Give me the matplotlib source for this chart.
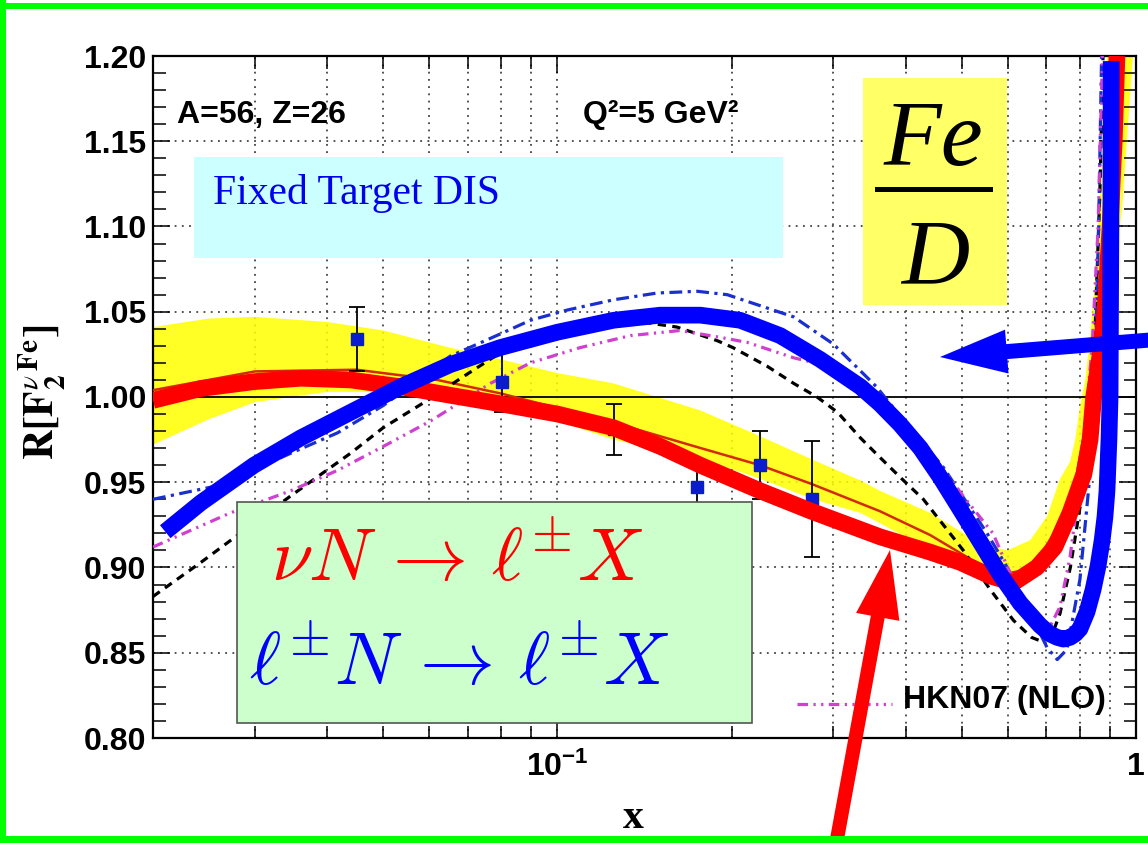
import matplotlib
matplotlib.use("Agg")
import matplotlib.pyplot as plt
from matplotlib.patches import Rectangle, Polygon
from matplotlib.lines import Line2D
from matplotlib.ticker import NullFormatter
import numpy as np

plt.rcParams['font.family'] = ['Liberation Sans', 'DejaVu Sans']
plt.rcParams['mathtext.fontset'] = 'custom'
plt.rcParams['mathtext.rm'] = 'Liberation Sans'
plt.rcParams['mathtext.bf'] = 'Liberation Sans:bold'
plt.rcParams['mathtext.it'] = 'Liberation Sans:italic'

# ---------------- data ----------------
# measured ratio points
data_x = [0.0451, 0.0803, 0.1251, 0.1743, 0.2242, 0.2754]
data_y = [1.034, 1.009, 0.981, 0.947, 0.960, 0.940]
data_err = [0.019, 0.018, 0.015, 0.016, 0.020, 0.034]

# central fit (thin red) and its uncertainty band
fit_x = [0.020, 0.030, 0.045, 0.062, 0.080, 0.125, 0.177, 0.224, 0.275, 0.361,
         0.441, 0.517, 0.560, 0.590, 0.630, 0.680, 0.740, 0.785, 0.820, 0.850,
         0.880, 0.910, 0.930]
fit_y = [1.004, 1.015, 1.016, 1.010, 1.002, 0.985, 0.970, 0.960, 0.949, 0.933,
         0.919, 0.905, 0.899, 0.896, 0.898, 0.906, 0.926, 0.950, 0.985, 1.030,
         1.090, 1.160, 1.200]

band_hi_x = [0.020, 0.025, 0.030, 0.040, 0.050, 0.065, 0.080, 0.100, 0.125, 0.177,
             0.224, 0.277, 0.334, 0.361, 0.441, 0.538, 0.599, 0.656, 0.702, 0.739,
             0.769, 0.785, 0.800, 0.817, 0.833, 0.850, 0.867, 0.891]
band_hi_y = [1.041, 1.046, 1.047, 1.044, 1.039, 1.029, 1.022, 1.014, 1.008, 0.992,
             0.977, 0.963, 0.951, 0.945, 0.932, 0.914, 0.910, 0.916, 0.930, 0.952,
             0.962, 0.975, 0.994, 1.010, 1.035, 1.070, 1.120, 1.200]
band_lo_x = [0.020, 0.025, 0.030, 0.040, 0.050, 0.065, 0.080, 0.100, 0.125, 0.177,
             0.224, 0.277, 0.334, 0.361, 0.441, 0.538, 0.599, 0.656, 0.702, 0.750,
             0.800, 0.850, 0.900, 0.946, 0.988]
band_lo_y = [0.972, 0.987, 0.997, 1.003, 1.003, 1.000, 0.995, 0.986, 0.975, 0.964,
             0.952, 0.940, 0.932, 0.926, 0.910, 0.899, 0.893, 0.897, 0.905, 0.925,
             0.955, 1.000, 1.050, 1.110, 1.200]

# black dashed model
bk_x = [0.020, 0.0242, 0.0346, 0.0439, 0.050, 0.0596, 0.0688, 0.0797, 0.0935, 0.110,
        0.140, 0.161, 0.189, 0.201, 0.2305, 0.256, 0.281, 0.305, 0.334, 0.355,
        0.391, 0.429, 0.503, 0.560, 0.614, 0.660, 0.683, 0.715, 0.739, 0.770,
        0.800, 0.833, 0.850, 0.866, 0.877]
bk_y = [0.883, 0.903, 0.942, 0.967, 0.982, 0.998, 1.012, 1.026, 1.0375, 1.043,
        1.044, 1.041, 1.033, 1.029, 1.018, 1.008, 1.000, 0.991, 0.976, 0.967,
        0.953, 0.940, 0.910, 0.887, 0.869, 0.859, 0.857, 0.860, 0.873, 0.900,
        0.935, 0.975, 1.040, 1.120, 1.200]

# blue dash-dot model
bd_x = [0.020, 0.0259, 0.0346, 0.0417, 0.050, 0.0653, 0.0797, 0.0898, 0.104, 0.125,
        0.1488, 0.1745, 0.1966, 0.236, 0.256, 0.300, 0.356, 0.380, 0.464, 0.553,
        0.599, 0.648, 0.702, 0.731, 0.760, 0.800, 0.833, 0.850, 0.862, 0.872]
bd_y = [0.940, 0.948, 0.967, 0.979, 0.995, 1.024, 1.037, 1.045, 1.051, 1.057,
        1.061, 1.062, 1.060, 1.051, 1.047, 1.031, 1.006, 0.994, 0.959, 0.920,
        0.900, 0.877, 0.853, 0.846, 0.852, 0.893, 0.955, 1.020, 1.100, 1.200]

# HKN07 (NLO), magenta dash-dot-dot
mg_x = [0.020, 0.0272, 0.0346, 0.0417, 0.050, 0.0604, 0.0766, 0.0898, 0.1096, 0.1337,
        0.163, 0.191, 0.213, 0.256, 0.312, 0.357, 0.424, 0.497, 0.566, 0.631,
        0.702, 0.739, 0.769, 0.800, 0.840, 0.860, 0.875]
mg_y = [0.912, 0.932, 0.945, 0.957, 0.971, 0.986, 1.008, 1.020, 1.029, 1.036,
        1.039, 1.035, 1.032, 1.023, 1.016, 1.002, 0.975, 0.944, 0.920, 0.883,
        0.862, 0.877, 0.906, 0.950, 1.030, 1.100, 1.200]

# hand-drawn summary curves
red_x = [0.0200, 0.0242, 0.0299, 0.0360, 0.0439, 0.0536, 0.0653, 0.0797, 0.1000,
         0.1250, 0.1506, 0.1766, 0.2240, 0.2747, 0.3610, 0.4410, 0.4970, 0.5600,
         0.6140, 0.6740, 0.7240, 0.7690, 0.8130, 0.8330, 0.8450, 0.8670, 0.8840,
         0.9020, 0.9170, 0.9270]
red_y = [0.998, 1.005, 1.009, 1.011, 1.010, 1.006, 1.001, 0.996, 0.990,
         0.982, 0.971, 0.960, 0.945, 0.933, 0.918, 0.909, 0.903, 0.895,
         0.891, 0.900, 0.912, 0.932, 0.955, 0.975, 1.000, 1.025, 1.050,
         1.100, 1.150, 1.200]
blue_x = [0.0210, 0.0242, 0.0299, 0.0360, 0.0439, 0.0536, 0.0653, 0.0797, 0.1000,
          0.1250, 0.1506, 0.1766, 0.2070, 0.2427, 0.2846, 0.3340, 0.3610, 0.3910,
          0.4240, 0.4587, 0.4970, 0.5380, 0.5820, 0.6310, 0.6826, 0.7100, 0.7310,
          0.7490, 0.7690, 0.7850, 0.8000, 0.8230, 0.8430, 0.8600, 0.8740, 0.8840,
          0.8910, 0.8980, 0.9020, 0.9050, 0.9060]
blue_y = [0.921, 0.938, 0.960, 0.976, 0.991, 1.006, 1.019, 1.029, 1.038,
          1.045, 1.048, 1.048, 1.045, 1.036, 1.022, 1.006, 0.996, 0.984,
          0.970, 0.953, 0.934, 0.915, 0.896, 0.879, 0.866, 0.861, 0.859,
          0.858, 0.859, 0.861, 0.864, 0.874, 0.887, 0.901, 0.916, 0.930,
          0.945, 0.975, 1.000, 1.100, 1.197]

y_ticks = [0.80, 0.85, 0.90, 0.95, 1.00, 1.05, 1.10, 1.15, 1.20]
x_minor = [0.02, 0.03, 0.04, 0.05, 0.06, 0.07, 0.08, 0.09,
           0.2, 0.3, 0.4, 0.5, 0.6, 0.7, 0.8, 0.9]

# ---------------- figure ----------------
W, H = 1148, 843
fig = plt.figure(figsize=(W / 100, H / 100), dpi=100)


def fx(px):
    return px / W


def fy(py):
    return 1 - py / H


ax = fig.add_axes([fx(153), fy(738), (1136 - 153) / W, (738 - 56) / H])
ax.set_xscale('log')
ax.set_xlim(0.02, 1.0)
ax.set_ylim(0.80, 1.20)

# grid
for yv in [0.85, 0.90, 0.95, 1.05, 1.10, 1.15]:
    ax.axhline(yv, color='#444444', lw=1.3, ls=(0, (1, 3)), zorder=1)
for xv in x_minor[1:] + [0.1]:
    ax.axvline(xv, color='#444444', lw=1.3, ls=(0, (1, 3)), zorder=1)
ax.axhline(1.0, color='black', lw=1.3, zorder=2)

# band + central fit
poly_x = list(band_hi_x) + list(band_lo_x[::-1])
poly_y = list(band_hi_y) + list(band_lo_y[::-1])
ax.fill(poly_x, poly_y, color='#ffff00', alpha=0.85, lw=0, zorder=1.5)
ax.plot(fit_x, fit_y, color='#d42a00', lw=1.8, zorder=3)

# model curves
ax.plot(bk_x, bk_y, color='black', lw=2.3, ls=(0, (2.6, 2.0)), zorder=3)
ax.plot(bd_x, bd_y, color='#1a2fd0', lw=2.3, ls=(0, (4.0, 1.7, 1.0, 1.7)), zorder=3)
ax.plot(mg_x, mg_y, color='#d040d0', lw=2.3,
        ls=(0, (3.3, 1.7, 0.7, 1.7, 0.7, 1.7)), zorder=3)

# data
ax.errorbar(data_x, data_y, yerr=data_err, fmt='s', color='#0a1ccc', ms=8,
            mec='#0a1ccc', ecolor='black', elinewidth=1.3, capsize=6,
            capthick=1.3, zorder=4)

# thick summary curves
ax.plot(red_x, red_y, color='#ff0000', lw=12, solid_capstyle='butt',
        solid_joinstyle='round', zorder=7)
ax.plot(blue_x, blue_y, color='#0000ff', lw=12, solid_capstyle='butt',
        solid_joinstyle='round', zorder=8)

# axes styling
ax.set_xticks([0.1, 1.0])
ax.set_xticklabels([r'$\mathbf{10^{-1}}$', '1'])
ax.set_xticks(x_minor, minor=True)
ax.xaxis.set_minor_formatter(NullFormatter())
ax.set_yticks(y_ticks)
ax.set_yticklabels(['%.2f' % v for v in y_ticks])
ax.set_yticks(np.round(np.arange(0.80, 1.2001, 0.01), 2), minor=True)
ax.tick_params(which='both', direction='in', top=True, right=True, width=1.1)
ax.tick_params(which='major', length=12)
ax.tick_params(which='minor', length=9)
ax.tick_params(axis='y', which='major', labelsize=23, pad=5)
ax.tick_params(axis='x', which='major', labelsize=23, pad=10)
for lab in ax.get_xticklabels() + ax.get_yticklabels():
    lab.set_fontweight('bold')
for sp in ax.spines.values():
    sp.set_linewidth(1.6)

ft = fig.transFigure

# boxes
ax.add_patch(Rectangle((fx(194), fy(258)), (783 - 194) / W, (258 - 157) / H,
                       transform=ft, facecolor='#ccffff', edgecolor='none',
                       clip_on=False, zorder=5))
ax.add_patch(Rectangle((fx(863), fy(305)), (1007 - 863) / W, (305 - 78) / H,
                       transform=ft, facecolor='#ffff66', edgecolor='none',
                       clip_on=False, zorder=5))
ax.add_patch(Rectangle((fx(237), fy(723)), (752 - 237) / W, (723 - 502) / H,
                       transform=ft, facecolor='#ccffcc', edgecolor='#555555',
                       lw=1.2, clip_on=False, zorder=5))
ax.add_patch(Rectangle((fx(875), fy(192)), (993 - 875) / W, 4.5 / H,
                       transform=ft, facecolor='black', edgecolor='none',
                       clip_on=False, zorder=6))

ax.text(fx(213), fy(204), 'Fixed Target DIS', transform=ft, color='#0000ee',
        family='Liberation Serif', fontsize=30, va='baseline', ha='left', zorder=6)
ax.text(fx(933), fy(165), 'Fe', transform=ft, family='Liberation Serif',
        style='italic', fontsize=68, va='baseline', ha='center', zorder=6)
ax.text(fx(935), fy(283), 'D', transform=ft, family='Liberation Serif',
        style='italic', fontsize=68, va='baseline', ha='center', zorder=6)
ax.text(fx(457), fy(581), r'$\nu N \,\rightarrow\, \ell^{\pm} X$', transform=ft,
        color='#ff0000', fontsize=54, math_fontfamily='cm', va='baseline',
        ha='center', zorder=6)
ax.text(fx(459), fy(685), r'$\ell^{\pm} N \,\rightarrow\, \ell^{\pm} X$', transform=ft,
        color='#0000ff', fontsize=54, math_fontfamily='cm', va='baseline',
        ha='center', zorder=6)

ax.text(fx(177), fy(123), 'A=56, Z=26', transform=ft, fontsize=23,
        fontweight='bold', va='baseline', ha='left', zorder=6)
ax.text(fx(583), fy(123), 'Q\u00b2=5 GeV\u00b2', transform=ft, fontsize=23,
        fontweight='bold', va='baseline', ha='left', zorder=6)

# legend entry
ax.add_line(Line2D([fx(797), fx(892)], [fy(704), fy(704)], transform=ft,
                   color='#d040d0', lw=2.3, ls=(0, (3.3, 1.7, 0.7, 1.7, 0.7, 1.7)),
                   clip_on=False, zorder=6))
ax.text(fx(903), fy(700), 'HKN07 (NLO)', transform=ft, fontsize=23,
        fontweight='bold', va='center', ha='left', zorder=6)

# axis titles
fig.text(fx(42), fy(392), r'$\mathbf{R[F}^{\nu\;\mathbf{Fe}}_{\mathbf{2}}\mathbf{]}$',
         rotation=90, fontsize=30, math_fontfamily='stix', ha='center', va='center')
fig.text(fx(633), fy(818), 'x', family='Liberation Serif', fontweight='bold',
         fontsize=30, ha='center', va='center')


# arrows (pixel geometry)
def arrow(x0, y0, x1, y1, shaft, head_w, head_l, color):
    d = np.array([x1 - x0, y1 - y0], dtype=float)
    u = d / np.hypot(*d)
    n = np.array([-u[1], u[0]])
    tail = np.array([x0, y0], dtype=float)
    tip = np.array([x1, y1], dtype=float)
    base = tip - u * head_l
    pts = [tail + n * shaft / 2, base + n * shaft / 2, base + n * head_w / 2, tip,
           base - n * head_w / 2, base - n * shaft / 2, tail - n * shaft / 2]
    pts = [(fx(p[0]), fy(p[1])) for p in pts]
    fig.add_artist(Polygon(pts, closed=True, transform=ft, facecolor=color,
                           edgecolor='none', zorder=10))


arrow(1150, 340, 940, 357, 15, 44, 67, '#0000ff')
arrow(835, 850, 890, 550, 14, 44, 68, '#ff0000')

# outer frame
for (x0, y0, x1, y1) in [(0, 0, 6, 843), (0, 3, 1148, 9), (0, 836, 1148, 843)]:
    fig.add_artist(Rectangle((fx(x0), fy(y1)), (x1 - x0) / W, (y1 - y0) / H,
                             transform=ft, facecolor='#00ff00', edgecolor='none',
                             zorder=11))

fig.savefig('out.png', dpi=100)
